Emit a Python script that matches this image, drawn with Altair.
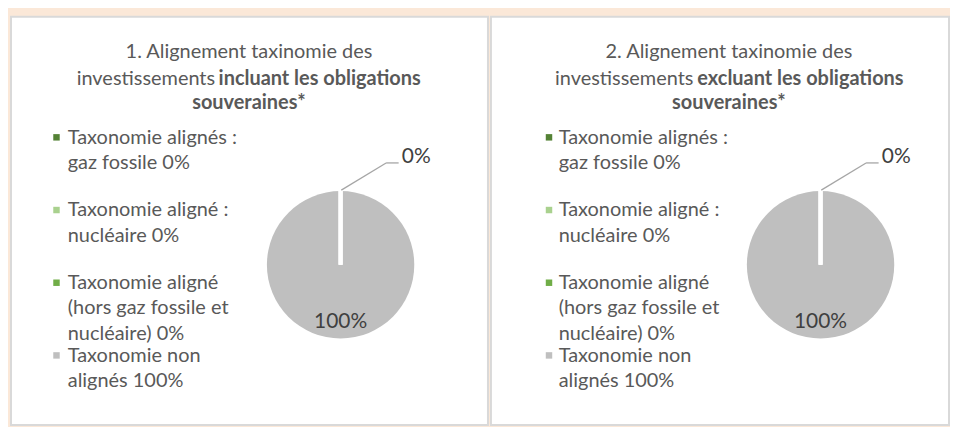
import altair as alt
import pandas as pd

# ---------------- data ----------------
categories = [
    "Taxonomie alignés : gaz fossile",
    "Taxonomie aligné : nucléaire",
    "Taxonomie aligné (hors gaz fossile et nucléaire)",
    "Taxonomie non alignés",
]
legend_labels = [
    "Taxonomie alignés :\ngaz fossile",
    "Taxonomie aligné :\nnucléaire",
    "Taxonomie aligné\n(hors gaz fossile et\nnucléaire)",
    "Taxonomie non\nalignés",
]
colors = ["#548235", "#A9D18E", "#70AD47", "#BFBFBF"]
values_incl = [0, 0, 0, 100]
values_excl = [0, 0, 0, 100]
title_incl = ["1. Alignement taxinomie des", "investissements", "incluant les obligations", "souveraines*"]
title_excl = ["2. Alignement taxinomie des", "investissements", "excluant les obligations", "souveraines*"]

FONT = "Lato"
FS = 20
LFS = 21
TXT = "#595959"
LBL = "#404040"
H = 410


def panel(values, title, W, sym_x, text_x, split_r, split_l):
    df = pd.DataFrame({
        "cat": categories,
        "value": values,
        "idx": list(range(len(categories))),
        "legend": [f"{l} {v}%" for l, v in zip(legend_labels, values)],
        "label": [f"{v}%" for v in values],
    })
    base = alt.Chart(df)
    color = alt.Color("cat:N", scale=alt.Scale(domain=categories, range=colors), legend=None)
    theta = alt.Theta("value:Q", stack=True)
    order = alt.Order("idx:Q")
    cx, cy, R = 331, 249, 74
    pos = dict(x=alt.value(cx), y=alt.value(cy))

    pie = base.mark_arc(outerRadius=R).encode(theta=theta, color=color, order=order, **pos)
    gaps = base.mark_arc(outerRadius=R, fillOpacity=0, stroke="white", strokeCap="round").encode(
        theta=theta, order=order,
        strokeWidth=alt.condition(alt.datum.value == 0, alt.value(4), alt.value(0)), **pos)
    big = base.transform_filter(alt.datum.value > 0).mark_text(
        radius=57, font=FONT, fontSize=LFS, color=LBL, baseline="middle").encode(
        theta=theta, text="label:N", **pos)
    zero = base.transform_filter(alt.datum.idx == 0).mark_text(
        radius=108, dx=76, font=FONT, fontSize=LFS, color=LBL, baseline="middle").encode(
        theta=theta, text="label:N", **pos)
    one = base.transform_filter(alt.datum.idx == 0)
    lead1 = one.mark_rule(color="#A6A6A6", strokeWidth=1.3).encode(
        x=alt.value(cx + 0.7), y=alt.value(cy - 75), x2=alt.value(cx + 45.7), y2=alt.value(cy - 102.3))
    lead2 = one.mark_rule(color="#A6A6A6", strokeWidth=1.3).encode(
        x=alt.value(cx + 45.7), y=alt.value(cy - 102.3), x2=alt.value(cx + 58.3), y2=alt.value(cy - 102.3))

    yscale = alt.Scale(type="point", domain=categories, range=[121, 340], padding=0)
    leg_sym = base.mark_point(shape="square", filled=True, size=42, opacity=1).encode(
        x=alt.value(sym_x), y=alt.Y("cat:N", scale=yscale, axis=None), color=color)
    leg_txt = base.mark_text(align="left", baseline="top", lineBreak="\n", lineHeight=25.5,
                             font=FONT, fontSize=FS, color=TXT, dy=-9.8).encode(
        x=alt.value(text_x), y=alt.Y("cat:N", scale=yscale, axis=None), text="legend:N")

    one_row = alt.Chart(pd.DataFrame({"k": [0]}))
    t_kw = dict(font=FONT, fontSize=FS, color=TXT, baseline="middle")
    t1 = one_row.mark_text(align="center", **t_kw).encode(
        x=alt.value(239), y=alt.value(35), text=alt.value(title[0]))
    t2a = one_row.mark_text(align="right", **t_kw).encode(
        x=alt.value(split_r), y=alt.value(62), text=alt.value(title[1]))
    t2b = one_row.mark_text(align="left", fontWeight="bold", **t_kw).encode(
        x=alt.value(split_l), y=alt.value(62), text=alt.value(title[2]))
    t3 = one_row.mark_text(align="center", fontWeight="bold", **t_kw).encode(
        x=alt.value(239), y=alt.value(87), text=alt.value(title[3]))

    return alt.layer(pie, gaps, big, zero, lead1, lead2, leg_sym, leg_txt,
                     t1, t2a, t2b, t3).properties(width=W, height=H)


p1 = panel(values_incl, title_incl, 479, 45.7, 57, 205, 208.5)
p2 = panel(values_excl, title_excl, 460, 58.3, 68, 203.3, 207.3)

chart = alt.hconcat(p1, p2, spacing=1).properties(
    padding={"left": 2, "top": 7, "right": 0, "bottom": 0},
    background="#FBE8D8",
).configure_view(fill="white", stroke="#D9D9D9", strokeWidth=2)

chart.save("out.html", embed_options={"renderer": "svg", "actions": False})
